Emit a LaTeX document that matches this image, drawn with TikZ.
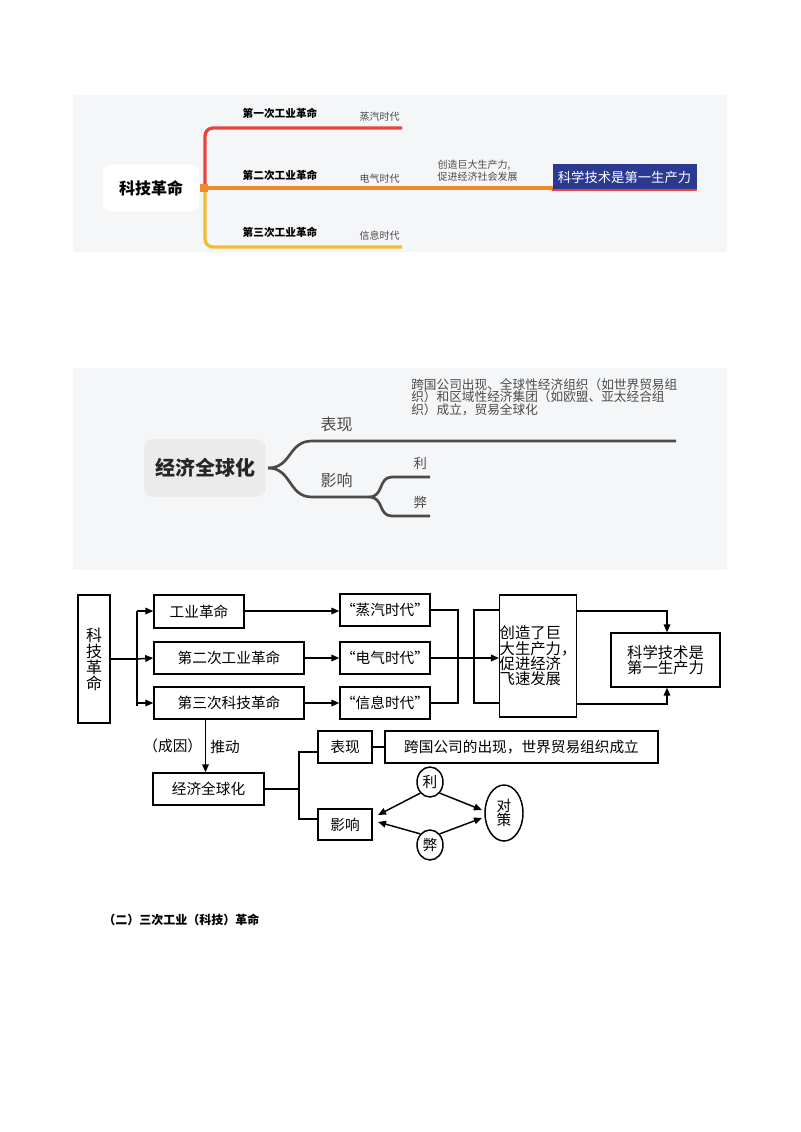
\documentclass[tikz,border=0pt]{standalone}
\usepackage{fontspec}
\setmainfont{Noto Sans CJK SC}
\usetikzlibrary{arrows.meta,shapes.geometric}
\definecolor{bgg}{HTML}{F5F6F8}
\definecolor{rd}{HTML}{E8453C}
\definecolor{og}{HTML}{F0892A}
\definecolor{yl}{HTML}{F5BC32}
\definecolor{nb}{HTML}{2B3990}
\definecolor{dk}{HTML}{4A4A4A}
\newcommand{\fs}[1]{\fontsize{#1}{#1*1.25}\selectfont}
\tikzset{
  fb/.style={draw=black,line width=1.1pt,inner sep=0pt,font=\fs{11pt}},
  ar/.style={-{Triangle[length=6pt,width=5pt]},line width=1.1pt},
  ln/.style={line width=1.1pt},
  mm/.style={line width=2pt,dk},
}
\begin{document}
\begin{tikzpicture}[x=0.75pt,y=-0.75pt]
\useasboundingbox (0,0) rectangle (800,1132);
\fill[white] (0,0) rectangle (800,1132);
% ===== panel 1
\fill[bgg] (73,95) rectangle (727,252);
\node[fill=white,rounded corners=6pt,minimum width=72pt,minimum height=35pt,font=\fs{12pt}\bfseries] (r1) at (151,188) {科技革命};
\draw[rd,line width=2.5pt,rounded corners=6pt] (205,188) -- (205,128) -- (402,128);
\draw[yl,line width=2.5pt,rounded corners=6pt] (205,188) -- (205,247) -- (402,247);
\draw[og,line width=2.5pt] (205,188) -- (697,188);
\fill[og] (200,184) rectangle (208,192);
\node[font=\fs{8pt}\bfseries,anchor=west] (t1) at (238,113) {第一次工业革命};
\node[font=\fs{8pt}\bfseries,anchor=west] (t2) at (238,175) {第二次工业革命};
\node[font=\fs{8pt}\bfseries,anchor=west] (t3) at (238,232) {第三次工业革命};
\node[font=\fs{7.5pt},anchor=west,dk] (e1) at (355,117) {蒸汽时代};
\node[font=\fs{7.5pt},anchor=west,dk] (e2) at (355,179) {电气时代};
\node[font=\fs{7.5pt},anchor=west,dk] (e3) at (355,236) {信息时代};
\node[font=\fs{7.5pt},anchor=west,dk,align=left] (cz) at (433,171) {创造巨大生产力,\\促进经济社会发展};
\node[fill=nb,text=white,font=\fs{10pt},minimum width=108pt,minimum height=20pt,inner sep=0pt] (kx) at (624.5,177) {科学技术是第一生产力};
\draw[rd,line width=1.5pt] (552,190) -- (697,190);
% ===== panel 2
\fill[bgg] (73,368) rectangle (727,570);
\node[fill=black!8,rounded corners=6pt,minimum width=91pt,minimum height=43pt,font=\fs{15pt}\bfseries,text=black!85] (r2) at (205,468) {经济全球化};
\draw[mm] (268,468) .. controls (292,468) and (288,441) .. (312,441) -- (676,441);
\draw[mm] (268,468) .. controls (292,468) and (288,497) .. (312,497) -- (369,497)
  .. controls (384,497) and (378,477) .. (392,477) -- (430,477);
\draw[mm] (369,497) .. controls (384,497) and (378,516) .. (392,516) -- (430,516);
\node[font=\fs{12pt},anchor=west,dk] (bx) at (316,424) {表现};
\node[font=\fs{12pt},anchor=west,dk] (yx) at (316,480) {影响};
\node[font=\fs{10pt},anchor=west,dk] (li) at (409,463) {利};
\node[font=\fs{10pt},anchor=west,dk] (bi) at (409,502) {弊};
\node[font=\fs{9.5pt},anchor=north west,dk,align=left,inner sep=0pt] (bt) at (411,378) {跨国公司出现、全球性经济组织（如世界贸易组\\织）和区域性经济集团（如欧盟、亚太经合组\\织）成立，贸易全球化};
% ===== panel 3
\node[fb,minimum width=24pt,minimum height=96pt,align=center,font=\fs{12pt}] (kj) at (94,659) {科\\技\\革\\命};
\node[fb,minimum width=67.5pt,minimum height=25pt] (g1) at (199,611.5) {工业革命};
\node[fb,minimum width=112.5pt,minimum height=24pt] (g2) at (229,658) {第二次工业革命};
\node[fb,minimum width=112.5pt,minimum height=24pt] (g3) at (229,703) {第三次科技革命};
\node[fb,minimum width=67.5pt,minimum height=24pt] (s1) at (385,610) {“蒸汽时代”};
\node[fb,minimum width=67.5pt,minimum height=24pt] (s2) at (385,658) {“电气时代”};
\node[fb,minimum width=67.5pt,minimum height=24pt] (s3) at (385,703) {“信息时代”};
\node[fb,minimum width=57pt,minimum height=91.5pt,align=left,font=\fs{11.5pt}] (cz3) at (538,656) {创造了巨\\大生产力，\\促进经济\\飞速发展};
\node[fb,minimum width=82pt,minimum height=40.5pt,align=center,font=\fs{11.5pt}] (kx3) at (665.5,660) {科学技术是\\第一生产力};
\node[fb,minimum width=40.5pt,minimum height=24pt] (bx3) at (345,747) {表现};
\node[fb,minimum width=205pt,minimum height=24pt] (kg) at (521.5,747) {跨国公司的出现，世界贸易组织成立};
\node[fb,minimum width=83pt,minimum height=24pt] (jj) at (208.5,789) {经济全球化};
\node[fb,minimum width=40.5pt,minimum height=23pt] (yx3) at (345,824.5) {影响};
\node[draw,ellipse,line width=1.1pt,minimum width=19.5pt,minimum height=22.5pt,inner sep=0pt,font=\fs{11pt}] (li3) at (430,782) {利};
\node[draw,ellipse,line width=1.1pt,minimum width=19.5pt,minimum height=22.5pt,inner sep=0pt,font=\fs{11pt}] (bi3) at (430,845) {弊};
\node[draw,ellipse,line width=1.1pt,minimum width=28.5pt,minimum height=42pt,inner sep=0pt,align=center,font=\fs{11pt}] (dc) at (504,813) {对\\策};
\coordinate (bus) at (137,659);
\draw[ln] (kj.east|-bus) -- (bus);
\draw[ln] (137,611) -- (137,706);
\draw[ar] (137,611) -- (g1.west|-0,611);
\draw[ar] (bus) -- (g2.west);
\draw[ar] (137,703) -- (g3.west);
\draw[ar] (g1.east|-0,611) -- (s1.west|-0,611);
\draw[ar] (g2.east) -- (s2.west);
\draw[ar] (g3.east) -- (s3.west);
\draw[ln] (s1.east) -- (458,610) -- (458,703) -- (s3.east);
\draw[ar] (s2.east) -- (cz3.west|-s2.east);
\draw[ln] (cz3.west|-0,610) -- (474,610) -- (474,703) -- (cz3.west|-0,703);
\draw[ar] (cz3.east|-0,611) -- (667,611) -- (kx3.north-|667,0);
\draw[ar] (cz3.east|-0,704) -- (667,704) -- (kx3.south-|667,0);
\draw[ar] (g3.south-|205.5,0) -- (jj.north-|205.5,0) node[pos=0.5,left=1pt,font=\fs{11pt},inner sep=1pt] {（成因）};
\node[font=\fs{11pt}] (td) at (225,747) {推动};
\draw[ln] (jj.east) -- (299,789);
\draw[ln] (bx3.west|-0,752) -- (299,752) -- (299,819) -- (yx3.west|-0,819);
\draw[ln] (bx3.east) -- (kg.west);
\draw[ar] (li3.south west) -- (378,815);
\draw[ar] (bi3.north west) -- (378,822);
\draw[ar] (li3.south east) -- (482,810);
\draw[ar] (bi3.north east) -- (482,818);
% ===== caption
\node[font=\fs{9pt}\bfseries,anchor=west,inner sep=0pt] (cap) at (103,920) {（二）三次工业（科技）革命};
\end{tikzpicture}
\end{document}
